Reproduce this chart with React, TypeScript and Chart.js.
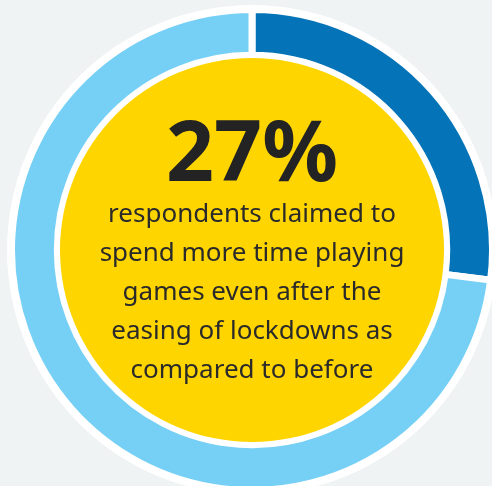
import React, { useEffect, useRef } from "react";
import { Chart, registerables } from "chart.js";

Chart.register(...registerables);

const categories = ["Spend more time playing", "Other respondents"];
const values = [27, 73];
const headline = "27%";
const bodyLines = [
  "respondents claimed to",
  "spend more time playing",
  "games even after the",
  "easing of lockdowns as",
  "compared to before",
];

const SIZE = 490;

export default function App() {
  const canvasRef = useRef<HTMLCanvasElement | null>(null);

  useEffect(() => {
    const canvas = canvasRef.current;
    if (!canvas) return;
    const ringPlugin = {
      id: "ringDecor",
      beforeDatasetsDraw(chart: any) {
        const arc = chart.getDatasetMeta(0).data[0];
        if (!arc) return;
        const ctx = chart.ctx;
        ctx.save();
        ctx.beginPath();
        ctx.arc(arc.x, arc.y, 245, 0, Math.PI * 2);
        ctx.fillStyle = "#ffffff";
        ctx.fill();
        ctx.restore();
      },
      afterDatasetsDraw(chart: any) {
        const arc = chart.getDatasetMeta(0).data[0];
        if (!arc) return;
        const ctx = chart.ctx;
        ctx.save();
        ctx.beginPath();
        ctx.arc(arc.x, arc.y, 192, 0, Math.PI * 2);
        ctx.fillStyle = "#ffd500";
        ctx.fill();
        ctx.restore();
      },
    };
    const chart = new Chart(canvas, {
      type: "doughnut",
      data: {
        labels: categories,
        datasets: [
          {
            data: values,
            backgroundColor: ["#0473b7", "#76d0f6"],
            borderColor: "#ffffff",
            borderWidth: 7,
          },
        ],
      },
      options: {
        responsive: false,
        animation: false,
        radius: 240.5,
        cutout: 195.5,
        layout: { padding: 0 },
        plugins: {
          legend: { display: false },
          tooltip: { enabled: false },
        },
      } as any,
      plugins: [ringPlugin],
    });
    return () => chart.destroy();
  }, []);

  return (
    <div
      style={{
        position: "fixed",
        left: 0,
        top: 0,
        width: "100vw",
        height: "100vh",
        background: "#eff3f4",
        overflow: "hidden",
      }}
    >
      <div style={{ position: "absolute", left: 7, top: 5, width: SIZE, height: SIZE }}>
        <canvas ref={canvasRef} width={SIZE} height={SIZE} style={{ width: SIZE, height: SIZE, display: "block" }} />
      </div>
      <div
        style={{
          position: "absolute",
          left: 52,
          top: 107.4,
          width: 400,
          textAlign: "center",
          fontFamily: "'Noto Sans', sans-serif",
          fontWeight: 700,
          fontSize: 84,
          lineHeight: "84px",
          color: "#232323",
        }}
      >
        {headline}
      </div>
      <div
        style={{
          position: "absolute",
          left: 52,
          top: 193.4,
          width: 400,
          textAlign: "center",
          fontFamily: "'Noto Sans', sans-serif",
          fontWeight: 400,
          fontSize: 26,
          lineHeight: "39px",
          color: "#2a2a2a",
        }}
      >
        {bodyLines.map((l, i) => (
          <div key={i}>{l}</div>
        ))}
      </div>
    </div>
  );
}
